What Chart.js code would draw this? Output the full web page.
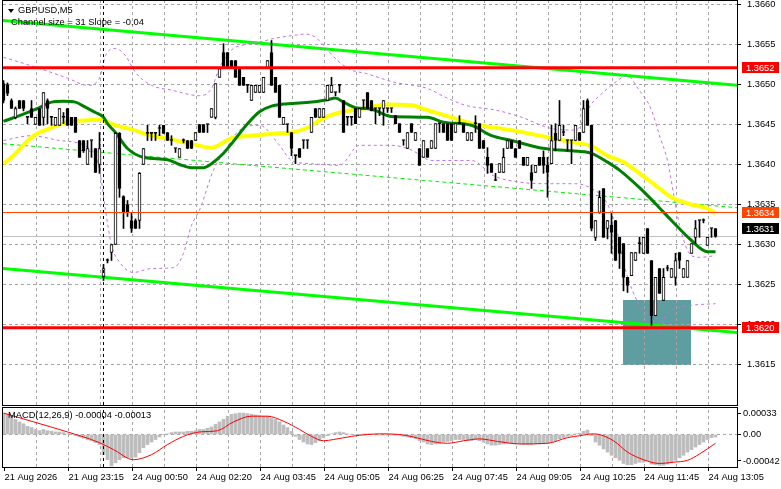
<!DOCTYPE html>
<html><head><meta charset="utf-8">
<script src="https://cdn.jsdelivr.net/npm/chart.js@4.4.0/dist/chart.umd.min.js"></script>
<style>
html,body{margin:0;padding:0;background:#fff;}
#wrap{position:relative;width:781px;height:489px;overflow:hidden;background:#fff;}
canvas{position:absolute;left:0;}
#main{top:0;width:781px;height:407px;}
#macd{top:406px;width:781px;height:83px;}
.lbl{position:absolute;font-family:"Liberation Sans",Arial,sans-serif;font-size:9.3px;color:#000;white-space:nowrap;line-height:11px;}
.tri{position:absolute;left:8px;top:9px;width:0;height:0;border-left:3px solid transparent;border-right:3px solid transparent;border-top:4px solid #000;}
</style></head>
<body><div id="wrap">
<canvas id="main" width="781" height="407"></canvas>
<canvas id="macd" width="781" height="83"></canvas>
<div class="tri"></div>
<div class="lbl" style="left:18px;top:5px">GBPUSD,M5</div>
<div class="lbl" style="left:11px;top:17px">Channel size = 31 Slope = -0.04</div>
<div class="lbl" style="left:8px;top:410px">MACD(12,26,9) -0.00004 -0.00013</div>
</div>
<script>
// ---------- data ----------
const timeLabels = ["21 Aug 2026","21 Aug 23:15","24 Aug 00:50","24 Aug 02:20","24 Aug 03:45","24 Aug 05:05","24 Aug 06:25","24 Aug 07:45","24 Aug 09:05","24 Aug 10:25","24 Aug 11:45","24 Aug 13:05"];

const opens = [
1.36501,1.36500,1.36480,1.36459,1.36480,1.36480,1.36459,1.36470,1.36450,1.36470,
1.36459,1.36480,1.36459,1.36449,1.36449,1.36459,1.36470,1.36459,1.36459,1.36430,
1.36430,1.36400,1.36430,1.36420,1.36400,1.36260,1.36280,1.36290,1.36300,1.36439,
1.36360,1.36350,1.36330,1.36330,1.36330,1.36400,1.36439,1.36439,1.36439,1.36445,
1.36449,1.36440,1.36430,1.36420,1.36409,1.36430,1.36430,1.36430,1.36430,1.36450,
1.36450,1.36450,1.36459,1.36459,1.36509,1.36540,1.36540,1.36530,1.36530,1.36520,
1.36509,1.36499,1.36480,1.36490,1.36490,1.36490,1.36520,1.36540,1.36509,1.36499,
1.36450,1.36450,1.36440,1.36411,1.36420,1.36430,1.36430,1.36440,1.36470,1.36459,
1.36459,1.36480,1.36490,1.36490,1.36499,1.36480,1.36459,1.36459,1.36470,1.36459,
1.36480,1.36490,1.36480,1.36470,1.36470,1.36470,1.36470,1.36470,1.36461,1.36451,
1.36430,1.36420,1.36451,1.36430,1.36420,1.36409,1.36420,1.36420,1.36420,1.36451,
1.36451,1.36451,1.36451,1.36440,1.36451,1.36451,1.36430,1.36430,1.36451,1.36451,
1.36430,1.36409,1.36401,1.36380,1.36390,1.36390,1.36420,1.36430,1.36420,1.36430,
1.36409,1.36399,1.36390,1.36390,1.36409,1.36409,1.36399,1.36401,1.36439,1.36430,
1.36440,1.36430,1.36430,1.36430,1.36440,1.36440,1.36480,1.36449,1.36309,1.36340,
1.36370,1.36320,1.36324,1.36330,1.36309,1.36301,1.36259,1.36261,1.36280,1.36301,
1.36289,1.36320,1.36280,1.36211,1.36270,1.36230,1.36270,1.36259,1.36259,1.36290,
1.36259,1.36259,1.36289,1.36309,1.36330,1.36330,1.36299,1.36320,1.36320];

const highs = [
1.36505,1.36502,1.36482,1.36472,1.36480,1.36480,1.36459,1.36480,1.36459,1.36470,
1.36490,1.36482,1.36459,1.36459,1.36470,1.36465,1.36470,1.36459,1.36459,1.36430,
1.36430,1.36430,1.36430,1.36420,1.36440,1.36275,1.36282,1.36300,1.36440,1.36440,
1.36361,1.36355,1.36340,1.36332,1.36390,1.36420,1.36449,1.36439,1.36439,1.36449,
1.36449,1.36440,1.36436,1.36420,1.36420,1.36432,1.36430,1.36430,1.36440,1.36450,
1.36450,1.36450,1.36470,1.36501,1.36520,1.36551,1.36540,1.36530,1.36530,1.36520,
1.36509,1.36499,1.36499,1.36499,1.36499,1.36509,1.36530,1.36555,1.36509,1.36499,
1.36459,1.36450,1.36440,1.36411,1.36420,1.36430,1.36430,1.36459,1.36470,1.36470,
1.36470,1.36499,1.36509,1.36490,1.36499,1.36480,1.36459,1.36459,1.36470,1.36470,
1.36480,1.36490,1.36480,1.36470,1.36470,1.36480,1.36470,1.36470,1.36461,1.36451,
1.36430,1.36440,1.36451,1.36440,1.36420,1.36430,1.36420,1.36430,1.36451,1.36451,
1.36451,1.36451,1.36451,1.36451,1.36461,1.36451,1.36440,1.36440,1.36461,1.36451,
1.36430,1.36421,1.36401,1.36389,1.36401,1.36420,1.36430,1.36430,1.36420,1.36430,
1.36409,1.36409,1.36399,1.36399,1.36409,1.36417,1.36409,1.36449,1.36451,1.36480,
1.36449,1.36430,1.36430,1.36449,1.36440,1.36480,1.36482,1.36449,1.36330,1.36367,
1.36370,1.36330,1.36340,1.36330,1.36309,1.36301,1.36259,1.36290,1.36290,1.36309,
1.36309,1.36320,1.36280,1.36259,1.36270,1.36270,1.36274,1.36270,1.36289,1.36290,
1.36270,1.36280,1.36301,1.36330,1.36330,1.36332,1.36309,1.36320,1.36320];

const lows = [
1.36477,1.36486,1.36470,1.36457,1.36470,1.36467,1.36451,1.36459,1.36450,1.36449,
1.36449,1.36451,1.36449,1.36449,1.36449,1.36451,1.36449,1.36449,1.36440,1.36409,
1.36415,1.36400,1.36409,1.36390,1.36389,1.36255,1.36277,1.36280,1.36300,1.36359,
1.36320,1.36335,1.36315,1.36320,1.36320,1.36400,1.36430,1.36430,1.36430,1.36436,
1.36439,1.36430,1.36424,1.36415,1.36409,1.36427,1.36420,1.36420,1.36430,1.36440,
1.36440,1.36440,1.36459,1.36457,1.36509,1.36520,1.36520,1.36520,1.36509,1.36499,
1.36499,1.36490,1.36480,1.36490,1.36490,1.36490,1.36520,1.36499,1.36490,1.36459,
1.36450,1.36440,1.36411,1.36401,1.36409,1.36420,1.36420,1.36440,1.36459,1.36459,
1.36459,1.36480,1.36490,1.36486,1.36490,1.36440,1.36449,1.36449,1.36451,1.36459,
1.36470,1.36470,1.36467,1.36451,1.36461,1.36449,1.36465,1.36465,1.36451,1.36440,
1.36424,1.36420,1.36440,1.36430,1.36399,1.36409,1.36409,1.36420,1.36420,1.36440,
1.36440,1.36430,1.36430,1.36440,1.36451,1.36440,1.36430,1.36430,1.36440,1.36420,
1.36420,1.36389,1.36390,1.36380,1.36390,1.36390,1.36420,1.36420,1.36409,1.36420,
1.36399,1.36399,1.36370,1.36390,1.36399,1.36389,1.36359,1.36401,1.36417,1.36430,
1.36436,1.36417,1.36401,1.36430,1.36430,1.36440,1.36449,1.36317,1.36305,1.36339,
1.36309,1.36307,1.36289,1.36280,1.36270,1.36242,1.36240,1.36261,1.36280,1.36289,
1.36289,1.36289,1.36199,1.36211,1.36239,1.36230,1.36267,1.36259,1.36249,1.36270,
1.36259,1.36259,1.36289,1.36301,1.36309,1.36327,1.36299,1.36309,1.36309];

const closes = [
1.36480,1.36489,1.36470,1.36470,1.36470,1.36470,1.36459,1.36459,1.36459,1.36449,
1.36490,1.36470,1.36459,1.36459,1.36470,1.36459,1.36449,1.36449,1.36440,1.36409,
1.36417,1.36420,1.36430,1.36390,1.36420,1.36270,1.36280,1.36300,1.36439,1.36370,
1.36340,1.36340,1.36320,1.36320,1.36389,1.36420,1.36439,1.36439,1.36439,1.36445,
1.36439,1.36430,1.36430,1.36420,1.36420,1.36430,1.36420,1.36420,1.36440,1.36440,
1.36440,1.36450,1.36470,1.36501,1.36520,1.36520,1.36520,1.36520,1.36509,1.36499,
1.36499,1.36499,1.36499,1.36499,1.36499,1.36509,1.36530,1.36499,1.36490,1.36459,
1.36459,1.36450,1.36420,1.36411,1.36409,1.36430,1.36430,1.36459,1.36459,1.36470,
1.36470,1.36499,1.36499,1.36490,1.36499,1.36440,1.36459,1.36459,1.36451,1.36470,
1.36480,1.36470,1.36467,1.36470,1.36470,1.36480,1.36470,1.36470,1.36451,1.36440,
1.36430,1.36440,1.36440,1.36440,1.36399,1.36430,1.36409,1.36430,1.36451,1.36451,
1.36440,1.36430,1.36430,1.36451,1.36451,1.36440,1.36440,1.36440,1.36451,1.36420,
1.36420,1.36399,1.36390,1.36380,1.36401,1.36409,1.36430,1.36420,1.36409,1.36420,
1.36399,1.36409,1.36380,1.36399,1.36399,1.36399,1.36390,1.36430,1.36430,1.36449,
1.36440,1.36430,1.36430,1.36449,1.36430,1.36470,1.36449,1.36320,1.36330,1.36359,
1.36309,1.36330,1.36315,1.36280,1.36289,1.36259,1.36249,1.36290,1.36290,1.36301,
1.36309,1.36289,1.36211,1.36259,1.36239,1.36259,1.36270,1.36270,1.36280,1.36280,
1.36270,1.36280,1.36301,1.36320,1.36330,1.36330,1.36309,1.36320,1.36310];

// moving averages & bands: [bar index, price]
const maGreen = [[0,1.36454],[4,1.36461],[9,1.36471],[12,1.36478],[15,1.36479],[18,1.36478],[20,1.36473],[23,1.36465],[25,1.36459],[26,1.36451],[28,1.36440],[31,1.36420],[35,1.36409],[41,1.36406],[44,1.36400],[47,1.36396],[50,1.36396],[52,1.36401],[55,1.36414],[57,1.36426],[61,1.36451],[64,1.36466],[67,1.36473],[71,1.36476],[77,1.36478],[81,1.36481],[83,1.36483],[85,1.36478],[88,1.36471],[92,1.36469],[97,1.36460],[106,1.36459],[110,1.36453],[117,1.36449],[122,1.36436],[127,1.36430],[134,1.36421],[139,1.36418],[145,1.36416],[147,1.36414],[151,1.36403],[154,1.36393],[159,1.36371],[163,1.36351],[167,1.36330],[172,1.36305],[176,1.36291],[178,1.36291]];
const maYellow = [[0,1.36401],[2,1.36409],[7,1.36434],[12,1.36446],[16,1.36453],[20,1.36455],[24,1.36456],[28,1.36449],[32,1.36444],[37,1.36436],[41,1.36433],[44,1.36429],[47,1.36426],[52,1.36421],[57,1.36433],[62,1.36436],[69,1.36439],[72,1.36440],[76,1.36446],[80,1.36458],[84,1.36465],[89,1.36469],[96,1.36475],[102,1.36474],[106,1.36468],[112,1.36459],[118,1.36450],[127,1.36443],[137,1.36433],[142,1.36428],[147,1.36423],[151,1.36411],[155,1.36403],[159,1.36389],[163,1.36374],[167,1.36359],[172,1.36350],[176,1.36345],[178,1.36339]];
const bandUpper = [[0,1.36534],[4,1.36528],[9,1.36520],[16,1.36508],[21,1.36499],[24,1.36508],[25.5,1.36536],[28,1.36545],[30.5,1.36536],[33,1.36515],[37,1.36499],[42,1.36493],[49,1.36486],[52,1.36495],[54,1.36521],[57,1.36543],[60.5,1.36550],[64,1.36553],[68,1.36558],[72,1.36561],[75.5,1.36563],[78,1.36559],[80.5,1.36546],[83.5,1.36530],[87,1.36518],[90.5,1.36514],[97.5,1.36503],[106,1.36495],[110.5,1.36484],[115.5,1.36474],[123,1.36468],[129,1.36460],[137,1.36445],[143,1.36443],[147,1.36476],[149,1.36486],[152.5,1.36501],[156,1.36511],[158.5,1.36496],[162,1.36468],[164,1.36436],[166,1.36405],[167.5,1.36364],[169,1.36324],[172,1.36286],[174,1.36284],[178,1.36286]];
const bandLower = [[0,1.36430],[7,1.36436],[14,1.36430],[22,1.36418],[24,1.36393],[25.5,1.36343],[27,1.36299],[29,1.36278],[32.5,1.36265],[37,1.36270],[42.5,1.36271],[45,1.36289],[47,1.36324],[49,1.36343],[52.5,1.36393],[55.5,1.36418],[59,1.36443],[64,1.36449],[69,1.36424],[72,1.36405],[77,1.36401],[84,1.36399],[89,1.36424],[97,1.36424],[102,1.36418],[107,1.36405],[117,1.36405],[122.5,1.36386],[129,1.36378],[137,1.36376],[143,1.36376],[147,1.36370],[150.5,1.36355],[153,1.36324],[155.5,1.36268],[159,1.36224],[162,1.36208],[164,1.36189],[165.5,1.36211],[168,1.36220],[172,1.36224],[178,1.36226]];

// regression channel [left edge, right edge]
const channelUpper = [1.36580, 1.36499];
const channelMid = [1.36426, 1.36346];
const channelLower = [1.36270, 1.36190];

// horizontal levels
const resistance = 1.36521;
const support = 1.36196;
const midLevel = 1.3634;
const bidPrice = 1.3631;
const separatorBar = 25;
const zone = {from: 154.875, to: 171.875, top: 1.3623, bottom: 1.3615};

const priceTicks = [1.3615,1.3620,1.3625,1.3630,1.3635,1.3640,1.3645,1.3650,1.3655,1.3660];
const macdTicks = [0.00033, 0, -0.00042];

const macdMain = [
0.00033,0.00032,0.00029,0.00024,0.00020,0.00017,0.00013,0.00011,0.00008,0.00006,
0.00008,0.00006,0.00005,0.00004,0.00004,0.00003,0.00001,0.00000,-0.00002,-0.00004,
-0.00006,-0.00008,-0.00010,-0.00013,-0.00016,-0.00032,-0.00040,-0.00050,-0.00045,-0.00040,
-0.00037,-0.00037,-0.00037,-0.00036,-0.00029,-0.00021,-0.00016,-0.00012,-0.00008,-0.00004,
0.00000,0.00001,0.00003,0.00004,0.00004,0.00004,0.00005,0.00005,0.00006,0.00008,
0.00008,0.00010,0.00012,0.00016,0.00020,0.00024,0.00029,0.00032,0.00033,0.00034,
0.00034,0.00033,0.00032,0.00031,0.00030,0.00029,0.00029,0.00026,0.00024,0.00020,
0.00015,0.00011,0.00005,-0.00003,-0.00008,-0.00012,-0.00015,-0.00016,-0.00013,-0.00010,
-0.00005,-0.00002,0.00001,0.00003,0.00004,0.00003,0.00001,0.00000,-0.00001,0.00000,
0.00001,0.00001,0.00000,-0.00001,-0.00001,-0.00001,-0.00001,-0.00001,-0.00001,-0.00001,
-0.00003,-0.00004,-0.00005,-0.00007,-0.00010,-0.00012,-0.00015,-0.00016,-0.00015,-0.00014,
-0.00012,-0.00011,-0.00010,-0.00008,-0.00008,-0.00008,-0.00010,-0.00010,-0.00008,-0.00010,
-0.00012,-0.00015,-0.00017,-0.00017,-0.00016,-0.00015,-0.00014,-0.00014,-0.00015,-0.00015,
-0.00016,-0.00016,-0.00016,-0.00015,-0.00015,-0.00014,-0.00014,-0.00012,-0.00010,-0.00007,
-0.00005,-0.00003,-0.00002,0.00001,0.00002,0.00005,0.00007,-0.00002,-0.00012,-0.00017,
-0.00023,-0.00028,-0.00033,-0.00037,-0.00041,-0.00046,-0.00048,-0.00048,-0.00046,-0.00044,
-0.00044,-0.00042,-0.00047,-0.00048,-0.00049,-0.00049,-0.00047,-0.00044,-0.00041,-0.00037,
-0.00033,-0.00028,-0.00024,-0.00020,-0.00016,-0.00012,-0.00008,-0.00005,-0.00004];
const macdSignal = [[0,0.00034],[7.5,0.00020],[16,0.00004],[24,-0.00013],[27.5,-0.00024],[32.5,-0.00040],[37,-0.00032],[41,-0.00016],[45,-0.00003],[49,0.00004],[53.5,0.00006],[57.5,0.00020],[62,0.00029],[66,0.00029],[70,0.00021],[74,0.00008],[77,-0.00003],[80,-0.00010],[82.5,-0.00008],[87,-0.00003],[91,0.00000],[94,0.00001],[99,0.00000],[102.5,-0.00004],[107,-0.00011],[111,-0.00014],[115,-0.00010],[119,-0.00007],[123.5,-0.00011],[129,-0.00015],[136,-0.00014],[141,-0.00005],[144,-0.00002],[147.5,0.00001],[152.5,-0.00010],[156,-0.00028],[160,-0.00040],[164,-0.00046],[167.5,-0.00044],[171,-0.00041],[174,-0.00031],[178,-0.00014]];

// ---------- layout constants ----------
const X_MIN = -0.125, X_MAX = 183.375;
const Y_MAX = 1.36605625, Y_MIN = 1.36099375;
const M_MAX = 0.000436, M_MIN = -0.000516;
const FONT = {family: '"Liberation Sans", Arial, sans-serif', size: 9.3};
const GRID_COLOR = '#a4a4a4';
const NONE = 'rgba(0,0,0,0)';
const tickPos = Array.from({length: 23}, (_, k) => 8 * k + 0.25);
const gridPos = tickPos.slice(1);

const idx = opens.map((_, i) => i);
const pts = a => a.map(([x, y]) => ({x, y}));
const hLine = v => [{x: X_MIN, y: v}, {x: X_MAX, y: v}];
const lineDs = (data, color, width, order, extra) => Object.assign({type: 'line', data, borderColor: color, borderWidth: width, pointRadius: 0, fill: false, order}, extra || {});
const gridDs = (data) => lineDs(data, GRID_COLOR, 1, 50, {borderDash: [3, 3]});

const zonePlugin = {
  id: 'zone',
  beforeDatasetsDraw(chart) {
    const {ctx, scales: {x, y}} = chart;
    const x0 = Math.round(x.getPixelForValue(zone.from)), x1 = Math.round(x.getPixelForValue(zone.to));
    const y0 = Math.round(y.getPixelForValue(zone.top)), y1 = Math.round(y.getPixelForValue(zone.bottom));
    ctx.save(); ctx.fillStyle = '#5f9ea0'; ctx.fillRect(x0, y0, x1 - x0, y1 - y0); ctx.restore();
  }
};
function drawBox(ctx, left, yc, color, text) {
  ctx.fillStyle = color;
  ctx.fillRect(left + 5, Math.round(yc - 5.5), 37, 11);
  ctx.fillStyle = '#fff';
  ctx.font = '9.3px "Liberation Sans", Arial, sans-serif';
  ctx.textAlign = 'left'; ctx.textBaseline = 'middle';
  ctx.fillText(text, left + 9, Math.round(yc - 5.5) + 6);
}
const frameMain = {
  id: 'frameMain',
  afterDraw(chart) {
    const {ctx, chartArea: a, scales: {y}} = chart;
    ctx.save();
    ctx.strokeStyle = '#000'; ctx.lineWidth = 1;
    ctx.strokeRect(a.left - 0.5, a.top + 0.5, a.right - a.left + 1, a.bottom - a.top);
    drawBox(ctx, a.right, y.getPixelForValue(resistance), '#ff0000', resistance.toFixed(4));
    drawBox(ctx, a.right, y.getPixelForValue(support), '#ff0000', support.toFixed(4));
    drawBox(ctx, a.right, y.getPixelForValue(midLevel), '#ff4500', midLevel.toFixed(4));
    drawBox(ctx, a.right, y.getPixelForValue(bidPrice) - 8, '#000000', bidPrice.toFixed(4));
    ctx.restore();
  }
};
const frameMacd = {
  id: 'frameMacd',
  afterDraw(chart) {
    const {ctx, chartArea: a} = chart;
    ctx.save(); ctx.strokeStyle = '#000'; ctx.lineWidth = 1;
    ctx.strokeRect(a.left - 0.5, a.top + 0.5, a.right - a.left + 1, a.bottom - a.top);
    ctx.restore();
  }
};

const baseOpts = {
  responsive: false, animation: false, devicePixelRatio: 1, events: [],
  plugins: {legend: {display: false}, tooltip: {enabled: false}}
};

const mainGrid = [
  ...gridPos.map(v => gridDs([{x: v, y: Y_MIN}, {x: v, y: Y_MAX}])),
  ...priceTicks.map(v => gridDs(hLine(v)))
];

new Chart(document.getElementById('main'), {
  type: 'bar',
  data: {datasets: [
    ...mainGrid,
    lineDs(hLine(bidPrice), '#c0c0c0', 1, 30),
    lineDs([{x: X_MIN, y: channelUpper[0]}, {x: X_MAX, y: channelUpper[1]}], '#00ff00', 3, 25),
    lineDs([{x: X_MIN, y: channelLower[0]}, {x: X_MAX, y: channelLower[1]}], '#00ff00', 3, 25),
    lineDs([{x: X_MIN, y: channelMid[0]}, {x: X_MAX, y: channelMid[1]}], '#00ee00', 1, 25, {borderDash: [4, 3]}),
    lineDs(pts(bandUpper), '#c070e8', 1, 22, {borderDash: [3, 3], cubicInterpolationMode: 'monotone'}),
    lineDs(pts(bandLower), '#c070e8', 1, 22, {borderDash: [3, 3], cubicInterpolationMode: 'monotone'}),
    lineDs(pts(maYellow), '#ffff00', 4, 20, {cubicInterpolationMode: 'monotone'}),
    lineDs(pts(maGreen), '#008000', 3, 19, {cubicInterpolationMode: 'monotone'}),
    {type: 'bar', data: idx.map(i => ({x: i, y: [lows[i], highs[i]]})), backgroundColor: '#000', barThickness: 1, grouped: false, minBarLength: 1, order: 15},
    {type: 'bar', data: idx.map(i => ({x: i, y: [opens[i], closes[i]]})), backgroundColor: idx.map(i => closes[i] > opens[i] ? '#ffffff' : '#000000'), borderColor: '#000', borderWidth: 1, borderSkipped: false, barThickness: 3, minBarLength: 1, grouped: false, order: 14},
    lineDs(hLine(resistance), '#ff0000', 3, 5),
    lineDs(hLine(support), '#ff0000', 3, 5),
    lineDs(hLine(midLevel), '#ff4500', 1, 5),
    lineDs([{x: separatorBar, y: Y_MIN}, {x: separatorBar, y: Y_MAX}], '#000', 1, 2, {borderDash: [3, 3]})
  ]},
  options: Object.assign({}, baseOpts, {
    layout: {padding: {left: 3, right: 0, top: 0, bottom: 2}, autoPadding: false},
    scales: {
      x: {type: 'linear', position: 'bottom', min: X_MIN, max: X_MAX, offset: false,
        afterBuildTicks: s => { s.ticks = tickPos.map(v => ({value: v})); },
        afterFit: s => { s.height = 0; s.paddingLeft = 0; s.paddingRight = 0; },
        grid: {display: false},
        border: {display: false},
        ticks: {display: false}},
      y: {type: 'linear', position: 'right', min: Y_MIN, max: Y_MAX,
        afterBuildTicks: s => { s.ticks = priceTicks.map(v => ({value: v})); },
        afterFit: s => { s.width = 44; s.paddingTop = 0; s.paddingBottom = 0; },
        grid: {color: NONE, drawOnChartArea: false, tickLength: 4, tickColor: '#000', tickWidth: 1},
        border: {display: false},
        ticks: {font: FONT, color: '#000', padding: 6, autoSkip: false, callback: v => Number(v).toFixed(4)}}
    }
  }),
  plugins: [zonePlugin, frameMain]
});

const macdGrid = [
  ...gridPos.map(v => gridDs([{x: v, y: M_MIN}, {x: v, y: M_MAX}])),
  gridDs(hLine(0))
];

new Chart(document.getElementById('macd'), {
  type: 'bar',
  data: {datasets: [
    ...macdGrid,
    {type: 'bar', data: idx.map(i => ({x: i, y: macdMain[i]})), backgroundColor: '#bdbdbd', barThickness: 3, grouped: false, order: 10},
    lineDs(pts(macdSignal), '#ff0000', 1, 5, {cubicInterpolationMode: 'monotone'}),
    lineDs([{x: separatorBar, y: M_MIN}, {x: separatorBar, y: M_MAX}], '#000', 1, 2, {borderDash: [3, 3]})
  ]},
  options: Object.assign({}, baseOpts, {
    layout: {padding: {left: 3, right: 0, top: 1, bottom: 0}, autoPadding: false},
    scales: {
      x: {type: 'linear', position: 'bottom', min: X_MIN, max: X_MAX, offset: false,
        afterBuildTicks: s => { s.ticks = tickPos.map(v => ({value: v})); },
        afterFit: s => { s.height = 22; s.paddingLeft = 0; s.paddingRight = 0; },
        grid: {color: NONE, drawOnChartArea: false, tickLength: 4, tickWidth: 1, offset: false,
          tickColor: c => { const k = c.tick ? Math.round((c.tick.value - 0.25) / 8) : 1; return k % 2 === 0 ? '#000' : NONE; }},
        border: {display: false},
        ticks: {font: FONT, color: '#000', padding: 1, align: 'start', maxRotation: 0, autoSkip: false,
          callback: v => { const k = Math.round((v - 0.25) / 8); return k % 2 === 0 ? timeLabels[k / 2] : ''; }}},
      y: {type: 'linear', position: 'right', min: M_MIN, max: M_MAX,
        afterBuildTicks: s => { s.ticks = macdTicks.map(v => ({value: v})); },
        afterFit: s => { s.width = 44; s.paddingTop = 0; s.paddingBottom = 0; },
        grid: {color: NONE, drawOnChartArea: false, tickLength: 4, tickColor: '#000', tickWidth: 1},
        border: {display: false},
        ticks: {font: FONT, color: '#000', padding: 2, autoSkip: false, callback: v => v === 0 ? '0.00' : Number(v).toFixed(5)}}
    }
  }),
  plugins: [frameMacd]
});
</script>
</body></html>
